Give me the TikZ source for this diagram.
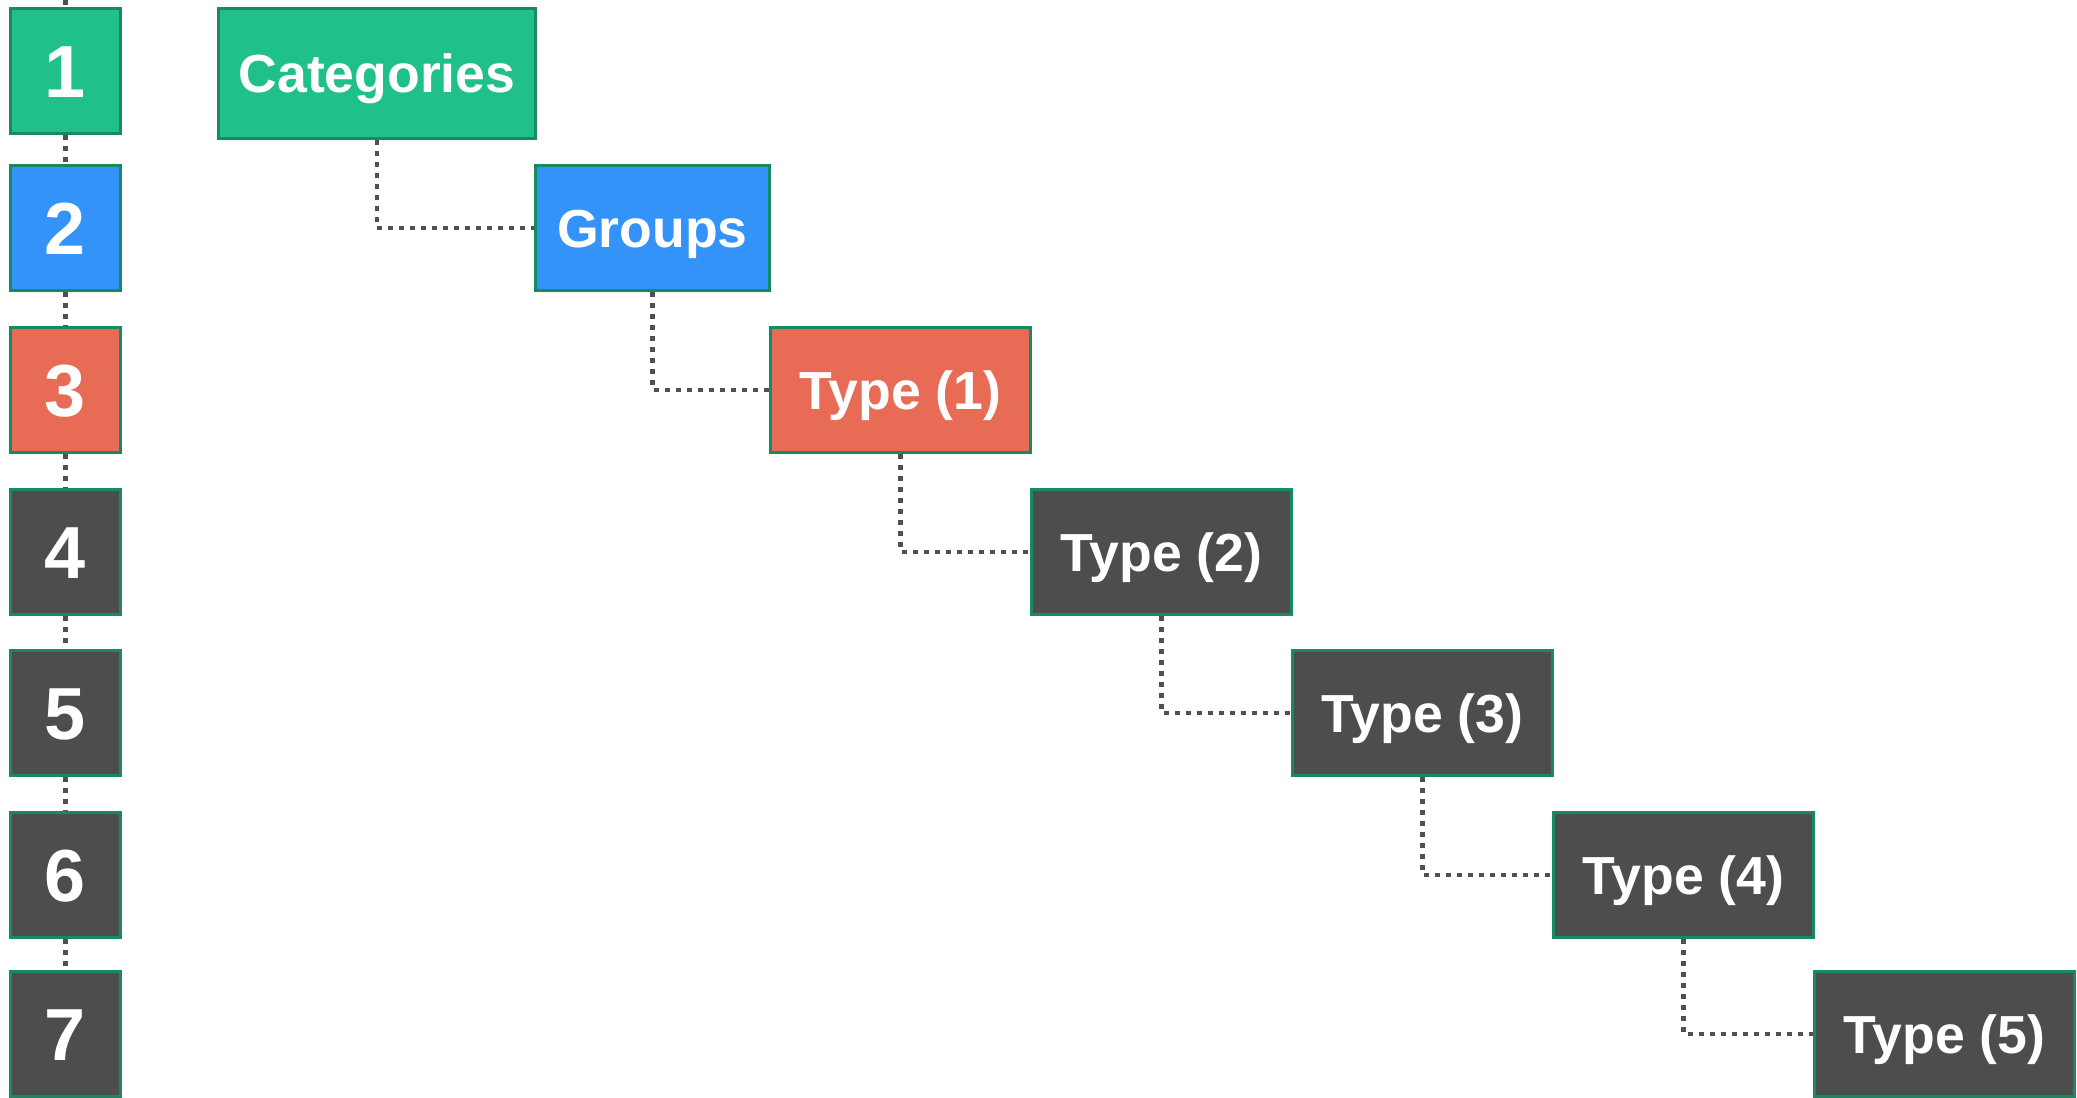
\documentclass[tikz,border=0pt]{standalone}
\usepackage{fontspec}
\setmainfont{Liberation Sans}
\usetikzlibrary{backgrounds}

\definecolor{catgreen}{HTML}{20C08A}
\definecolor{grpblue}{HTML}{3393F8}
\definecolor{typered}{HTML}{E86C55}
\definecolor{darkgrey}{HTML}{4D4D4D}
\definecolor{edgegreen}{HTML}{178A62}
\definecolor{linkgrey}{HTML}{505050}

\tikzset{
  box/.style={draw=edgegreen, line width=0.06cm, text=white, inner sep=0pt,
    minimum height=2.52cm, font=\bfseries\fontsize{30.5}{35}\selectfont,
    text height=24.8pt, text depth=3pt},
  numbox/.style={box, minimum width=2.2cm, font=\bfseries\fontsize{42}{48}\selectfont,
    text height=30pt, text depth=0pt},
  typebox/.style={box, fill=darkgrey, minimum width=5.22cm},
  link/.style={linkgrey, line width=0.095cm, dash pattern=on 0.095cm off 0.125cm}
}

\begin{document}
\begin{tikzpicture}[x=0.02cm, y=-0.02cm]
  \useasboundingbox (0,0) rectangle (2077,1098);

  % Level column
  \coordinate (top) at (65.5,0);
  \node[numbox, fill=catgreen] (n1) at (65.5,71) {1};
  \node[numbox, fill=grpblue] (n2) at (65.5,228) {2};
  \node[numbox, fill=typered] (n3) at (65.5,390) {3};
  \node[numbox, fill=darkgrey] (n4) at (65.5,552) {4};
  \node[numbox, fill=darkgrey] (n5) at (65.5,713) {5};
  \node[numbox, fill=darkgrey] (n6) at (65.5,875) {6};
  \node[numbox, fill=darkgrey] (n7) at (65.5,1034) {7};

  % Hierarchy
  \node[box, fill=catgreen, minimum width=6.34cm, minimum height=2.62cm] (cat) at (377,73.5) {Categories};
  \node[box, fill=grpblue, minimum width=4.7cm] (grp) at (652.5,228) {Groups};
  \node[typebox, fill=typered] (t1) at (900.5,390) {Type (1)};
  \node[typebox] (t2) at (1161.5,552) {Type (2)};
  \node[typebox] (t3) at (1422.5,713) {Type (3)};
  \node[typebox] (t4) at (1683.5,875) {Type (4)};
  \node[typebox] (t5) at (1944.5,1034) {Type (5)};

  % Dotted links
  \begin{scope}[on background layer]
    \draw[link] (top) -- (n1.north);
    \foreach \a/\b in {n1/n2, n2/n3, n3/n4, n4/n5, n5/n6, n6/n7}
      \draw[link] (\a.south) -- (\b.north);

    \draw[link] (cat.south) |- (grp.west);
    \draw[link] (grp.south) |- (t1.west);
    \draw[link] (t1.south) |- (t2.west);
    \draw[link] (t2.south) |- (t3.west);
    \draw[link] (t3.south) |- (t4.west);
    \draw[link] (t4.south) |- (t5.west);
  \end{scope}
\end{tikzpicture}
\end{document}
